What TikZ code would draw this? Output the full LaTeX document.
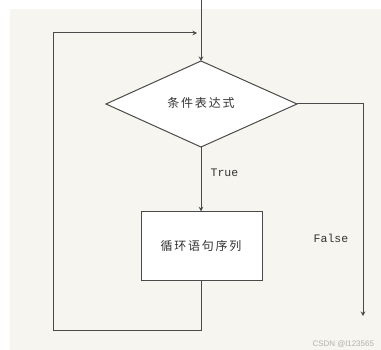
\documentclass[tikz,border=0pt]{standalone}
\usepackage{fontspec}
\newfontfamily\cjk[LetterSpace=15]{Noto Sans CJK SC}
\newfontfamily\mono{Liberation Mono}
\newfontfamily\wm{Liberation Sans}
\usetikzlibrary{shapes.geometric,arrows.meta}
\definecolor{bg}{HTML}{F7F5EF}
\definecolor{ln}{HTML}{4A4A4A}
\begin{document}
\begin{tikzpicture}[x=1pt,y=-1pt,
  line/.style={draw=ln,line width=1pt},
  arr/.style={line,-{Stealth[length=4.5pt,width=4.5pt]}},
  cjktext/.style={text=black!80,font=\cjk\fontsize{12}{14}\selectfont},
  lbl/.style={text=black!80,font=\mono\fontsize{11.5}{13}\selectfont}]
\useasboundingbox (0,0) rectangle (381,350);
\clip (0,0) rectangle (381,350);
\fill[bg] (10,9) rectangle (381,350);
% diamond
\coordinate (top) at (201,0);
\draw[line,fill=white] (201,61) coordinate (dT) -- (297,104) coordinate (dR) -- (201,147) coordinate (dB) -- (106,104) coordinate (dL) -- cycle;
\node[cjktext] (cond) at (201,103) {条件表达式};
% box
\node[draw=ln,line width=1pt,fill=white,minimum width=120.6pt,minimum height=68.3pt,inner sep=0pt] (body) at (202,246) {};
\node[cjktext] (bodytxt) at (201,246) {循环语句序列};
% connectors
\draw[arr] (top) -- (dT);
\draw[arr] (dB) -- (body.north -| dB);
\coordinate (rc) at (363,104);
\coordinate (rend) at (363,316);
\draw[arr] (dR) -- (rc) -- (rend);
\coordinate (bb) at (201,331);
\coordinate (bl) at (53,331);
\coordinate (tl) at (53,33);
\coordinate (tr) at (197,33);
\draw[arr] (body.south -| dB) -- (bb) -- (bl) -- (tl) -- (tr);
% labels
\node[lbl] (t) at (224.5,172.5) {True};
\node[lbl] (f) at (331,238) {False};
\node[text=black!30,font=\wm\fontsize{8}{9}\selectfont,anchor=west] (w) at (309,344) {CSDN @l123565};
\end{tikzpicture}
\end{document}
